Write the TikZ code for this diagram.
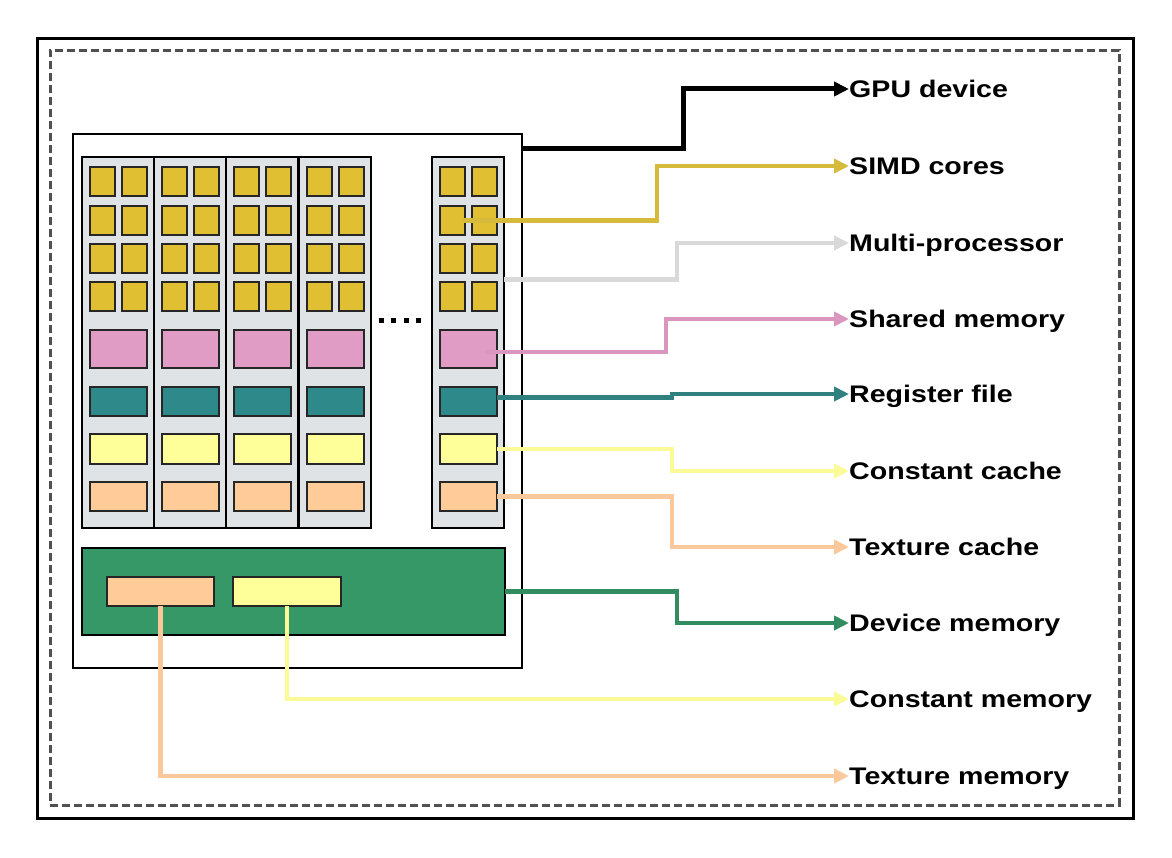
\documentclass[tikz,border=0pt]{standalone}
\usepackage{fontspec}
\setmainfont{Liberation Sans}
\usetikzlibrary{arrows.meta}
\definecolor{coregold}{RGB}{224,192,50}
\definecolor{shpink}{RGB}{224,156,196}
\definecolor{regteal}{RGB}{46,138,138}
\definecolor{cyellow}{RGB}{255,255,153}
\definecolor{tpeach}{RGB}{255,204,153}
\definecolor{devgreen}{RGB}{54,152,102}
\definecolor{mpgray}{RGB}{224,227,230}
\definecolor{lgray}{RGB}{217,217,217}
\definecolor{dashgray}{RGB}{80,80,80}
\definecolor{cgold}{RGB}{214,186,60}
\definecolor{cpink}{RGB}{218,150,190}
\definecolor{cteal}{RGB}{48,128,128}
\definecolor{cyel}{RGB}{250,250,150}
\definecolor{cpeach}{RGB}{250,200,155}
\definecolor{cgreen}{RGB}{50,140,95}
\begin{document}
\begin{tikzpicture}[x=1pt,y=-1pt,
  blk/.style={draw=black!85, line width=1.2pt, inner sep=0pt, outer sep=0pt, anchor=north west},
  bigbox/.style={draw=black, line width=2.2pt, inner sep=0pt, outer sep=0pt, anchor=north west},
  lbl/.style={anchor=west, inner sep=0pt, font=\bfseries\fontsize{24}{28}\selectfont, text height=17pt, text depth=0pt, xscale=1.19},
  conn/.style={line width=4.5pt, -{Triangle[length=15pt,width=14pt]}}]
\useasboundingbox (0,0) rectangle (1172,858);
\fill[white] (0,0) rectangle (1172,858);
% frames
\node[draw=black, line width=2.8pt, inner sep=0pt, anchor=north west, minimum width=1096pt, minimum height=780pt] (frame) at (36,37) {};
\node[draw=dashgray, line width=2.8pt, dash pattern=on 8pt off 4pt, inner sep=0pt, anchor=north west, minimum width=1069pt, minimum height=755pt] (dframe) at (49,49) {};
% GPU box
\node[bigbox, fill=white, minimum width=449pt, minimum height=534pt] (gpu) at (73,134) {};
% multiprocessors
\foreach \i/\x in {1/82,2/154,3/226,4/299,5/432} {
  \node[bigbox, fill=mpgray, minimum width=72pt, minimum height=371pt] (mp\i) at (\x,157) {};
  \foreach \j/\y in {1/167,2/206,3/244,4/282} {
    \node[blk, fill=coregold, minimum width=25pt, minimum height=29pt] (c\i r\j a) at (\x+8,\y) {};
    \node[blk, fill=coregold, minimum width=25pt, minimum height=29pt] (c\i r\j b) at (\x+40,\y) {};
  }
  \node[blk, fill=shpink, minimum width=57pt, minimum height=38pt] (pk\i) at (\x+8,330) {};
  \node[blk, fill=regteal, minimum width=57pt, minimum height=29pt] (tl\i) at (\x+8,387) {};
  \node[blk, fill=cyellow, minimum width=57pt, minimum height=30pt] (yl\i) at (\x+8,434) {};
  \node[blk, fill=tpeach, minimum width=57pt, minimum height=29pt] (or\i) at (\x+8,482) {};
}
% dots
\foreach \d/\x in {1/381,2/393,3/406,4/418} {
  \fill[black] (\x-2.5,318.5) rectangle (\x+2.5,323.5);
}
% device memory
\node[bigbox, fill=devgreen, minimum width=423pt, minimum height=87pt] (dm) at (82,548) {};
\node[blk, fill=tpeach, minimum width=107pt, minimum height=29pt] (tm) at (107,577) {};
\node[blk, fill=cyellow, minimum width=108pt, minimum height=29pt] (cm) at (233,577) {};
% labels
\node[lbl] (l1) at (849,89) {GPU device};
\node[lbl] (l2) at (849,166) {SIMD cores};
\node[lbl] (l3) at (849,243) {Multi-processor};
\node[lbl] (l4) at (849,319) {Shared memory};
\node[lbl] (l5) at (849,394) {Register file};
\node[lbl] (l6) at (849,471) {Constant cache};
\node[lbl] (l7) at (849,547) {Texture cache};
\node[lbl] (l8) at (849,623) {Device memory};
\node[lbl] (l9) at (849,699) {Constant memory};
\node[lbl] (l10) at (849,776) {Texture memory};
% connectors
\draw[conn, black, line width=5pt] ([yshift=-15pt]gpu.north east) -| (683,89) -- (l1.west);
\draw[conn, cgold] ([xshift=10pt]c5r2a.center) -| (657,166) -- (l2.west);
\draw[conn, lgray] ([yshift=63pt]mp5.east) -| (677,243) -- (l3.west);
\draw[conn, cpink] ([xshift=-12pt,yshift=-3pt]pk5.east) -| (666,319) -- (l4.west);
\draw[conn, cteal] ([yshift=4pt]tl5.east) -| (672,394) -- (l5.west);
\draw[conn, cyel] (yl5.east) -| (672,471) -- (l6.west);
\draw[conn, cpeach] (or5.east) -| (672,547) -- (l7.west);
\draw[conn, cgreen] (dm.east) -| (677,623) -- (l8.west);
\draw[conn, cyel] (cm.south) |- (l9.west);
\draw[conn, cpeach] (tm.south) |- (l10.west);
\end{tikzpicture}
\end{document}
